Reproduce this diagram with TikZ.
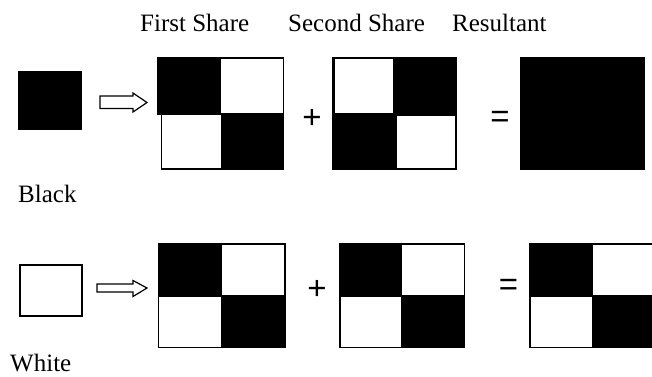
\documentclass[tikz,border=0pt]{standalone}
\usepackage{fontspec}
\setmainfont{Liberation Serif}
\newfontfamily\opsans{Liberation Sans}
\begin{document}
\begin{tikzpicture}[x=1pt,y=-1pt,
  blk/.style={draw=black,fill=black,line width=1.3pt},
  wht/.style={draw=black,fill=white,line width=1.3pt},
  label/.style={font=\fontsize{25}{30}\selectfont,inner sep=0pt,anchor=base west},
  op/.style={font=\opsans\fontsize{33}{36}\selectfont,inner sep=0pt},
  blockarrow/.style={draw=black,fill=white,line width=1.2pt,line join=miter}]
\useasboundingbox (0,0) rectangle (652,376);
\clip (0,0) rectangle (652,376);

% column headings
\node[label] (h1) at (140,31) {First Share};
\node[label] (h2) at (288,31) {Second Share};
\node[label] (h3) at (452,31) {Resultant};

% ---- black pixel ----
\draw[blk] (19,72) rectangle (81,129);
\draw[blockarrow] (100,96) -- (133,96) -- (133,93) -- (147,102.5) -- (133,112) -- (133,108.5) -- (100,108.5) -- cycle;
% first share
\draw[wht] (220,58) rectangle (283.3,113.5);
\draw[wht] (161.3,114.5) rectangle (221.7,169);
\draw[blk] (157.3,57.3) rectangle (220,114);
\draw[blk] (221.7,113.5) rectangle (283.3,169);
\node[op] (p1) at (312,119) {+};
% second share
\draw[blk] (332.7,57.3) rectangle (456.7,169.3);
\draw[wht] (334,58.5) rectangle (393.3,113.3);
\draw[wht] (396.7,115) rectangle (456,168.3);
\node[op] (e1) at (500,119) {=};
% resultant
\draw[blk] (521,57.3) rectangle (644.3,169.3);
\node[label] (lb) at (18,202) {Black};

% ---- white pixel ----
\draw[wht] (20,265) rectangle (82,316);
\draw[blockarrow] (97,284) -- (133,284) -- (133,280.5) -- (147,288) -- (133,296.5) -- (133,292) -- (97,292) -- cycle;
% first share
\draw[wht] (158.3,244) rectangle (285,347.7);
\draw[blk] (158.3,244) rectangle (221.7,296);
\draw[blk] (221.7,296) rectangle (285,347.7);
\node[op] (p2) at (317,290) {+};
% second share
\draw[wht] (340,244) rectangle (464.3,347.7);
\draw[blk] (340,244) rectangle (401.7,296);
\draw[blk] (401.7,296) rectangle (464.3,347.7);
\node[op] (e2) at (508.5,287) {=};
% resultant (runs past the right edge)
\draw[wht] (530,244) rectangle (660,347.7);
\draw[blk] (530,244) rectangle (592.7,296);
\draw[blk] (592.7,296) rectangle (660,347.7);
\node[label] (lw) at (10,371) {White};
\end{tikzpicture}
\end{document}
